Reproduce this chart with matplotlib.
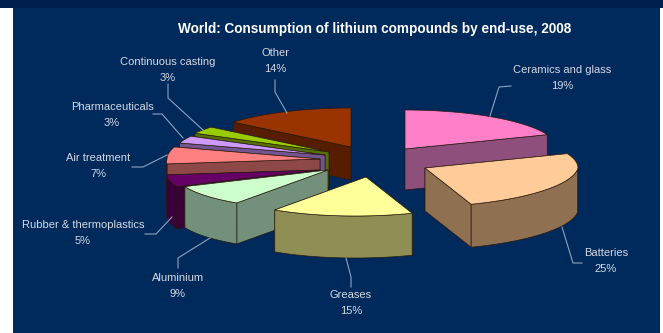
import numpy as np
import matplotlib
matplotlib.use("Agg")
import matplotlib.pyplot as plt
from matplotlib.patches import Rectangle

plt.rcParams['font.family'] = ['Liberation Sans', 'DejaVu Sans']

title = "World: Consumption of lithium compounds by end-use, 2008"
categories = ["Ceramics and glass", "Batteries", "Greases", "Aluminium",
              "Rubber & thermoplastics", "Air treatment", "Pharmaceuticals",
              "Continuous casting", "Other"]
shares = [19, 25, 15, 9, 5, 7, 3, 3, 14]

# colours of each slice, top face and side face
top_colors = ["#ff80c8", "#ffcc99", "#ffff99", "#ccffcc", "#660066",
              "#ff8080", "#cc99ff", "#99cc00", "#993300"]
side_colors = ["#8f4f7c", "#8f7050", "#8f8f55", "#72907a", "#3a0039",
               "#8f4848", "#725590", "#556f00", "#561d00"]

# layout, in pixels of the 663x333 picture
centers = [(405, 149), (425, 168), (366, 177), (328, 170), (320, 170),
           (320, 159), (325, 155), (329, 152), (351, 147)]
depths = [41, 43, 42, 41, 42, 40, 38, 36, 33]
rx, ry = 153, 39
shear = 0.28  # front of the pie leans left, as in the old 3D chart
draw_order = [8, 0, 7, 6, 5, 4, 1, 3, 2]
label_pos = [(562, 70), (606, 253), (351, 295), (178, 278), (83, 225),
             (98, 158), (112, 107), (168, 62), (275, 53)]
leaders = [[(511, 86), (499, 87), (490, 116)],
           [(582, 263), (573, 263), (562, 227)],
           [(351, 287), (351, 277), (346, 258)],
           [(178, 268), (178, 258), (210, 238)],
           [(145, 234), (156, 234), (172, 217)],
           [(132, 167), (143, 167), (167, 155)],
           [(153, 114), (162, 114), (183, 138)],
           [(168, 84), (168, 98), (203, 130)],
           [(275, 80), (275, 92), (287, 113)]]

navy = "#00295c"
band = "#001f4e"
text_color = "#d5dae3"
line_color = "#8fa2bd"
edge = "#2a1a10"


def rim(cx, cy, a0, a1):
    # clockwise from twelve o'clock, squashed to an ellipse
    t = np.radians(np.linspace(a0, a1, 60))
    dy = -ry * np.cos(t)
    dx = rx * np.sin(t) - shear * np.maximum(dy, 0)
    return cx + dx, cy + dy, t


def draw_slice(ax, i, a0, a1):
    cx, cy = centers[i]
    d = depths[i]
    side = dict(facecolor=side_colors[i], edgecolor=edge, linewidth=0.5)
    xs, ys, t = rim(cx, cy, a0, a1)
    # radial walls, the one further back first
    walls = [(xs[0], ys[0]), (xs[-1], ys[-1])]
    walls.sort(key=lambda p: p[1])
    for wx, wy in walls:
        ax.fill([cx, wx, wx, cx], [cy, wy, wy + d, cy + d], **side)
    # outer wall, only the part facing the viewer
    front = np.cos(t) <= 0
    if front.sum() > 1:
        fx, fy = xs[front], ys[front]
        ax.fill(np.r_[fx, fx[::-1]], np.r_[fy, fy[::-1] + d], **side)
    ax.fill(np.r_[cx, xs], np.r_[cy, ys], facecolor=top_colors[i],
            edgecolor=edge, linewidth=0.5)


fig = plt.figure(figsize=(6.63, 3.33), dpi=100, facecolor="white")
ax = fig.add_axes([0, 0, 1, 1])
ax.set_xlim(0, 663)
ax.set_ylim(333, 0)
ax.axis("off")

ax.add_patch(Rectangle((13, 0), 647, 333, facecolor=navy, edgecolor="none"))
ax.add_patch(Rectangle((0, 0), 663, 8, facecolor=band, edgecolor="none"))

ends = np.cumsum(shares) / np.sum(shares) * 360
starts = np.r_[0, ends[:-1]]

for path in leaders:
    ax.plot(*zip(*path), color=line_color, linewidth=0.8)

for i in draw_order:
    draw_slice(ax, i, starts[i], ends[i])

ax.text(375, 29, title, color="white", fontsize=9.85, fontweight="bold",
        ha="center", va="center")
for name, share, (x, y) in zip(categories, shares, label_pos):
    ax.text(x, y, name, color=text_color, fontsize=8.05, ha="center", va="center")
    ax.text(x, y + 16, f"{share}%", color=text_color, fontsize=8.05,
            ha="center", va="center")

fig.savefig("out.png", dpi=100, facecolor="white")
